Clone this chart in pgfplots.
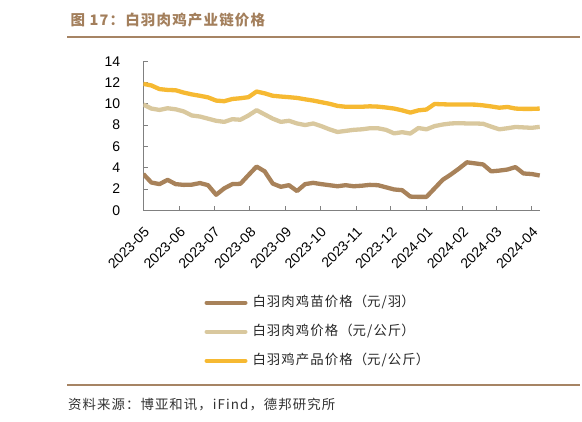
\documentclass[border=0pt]{standalone}
\usepackage{fontspec}
\setmainfont{Liberation Sans}
\newfontfamily\cjk[LetterSpace=8]{Noto Sans CJK SC}
\usepackage{pgfplots}
\usepackage{pgfplotstable}
\pgfplotsset{compat=1.18}

\definecolor{chick}{RGB}{168,130,90}
\definecolor{broiler}{RGB}{217,200,158}
\definecolor{product}{RGB}{246,185,50}
\definecolor{rulec}{RGB}{166,132,100}
\definecolor{titlec}{RGB}{163,127,92}
\definecolor{axisc}{RGB}{128,128,128}

% full-width brackets
\newcommand\lp{\makebox[1.08em][r]{（}}
\newcommand\rp{\makebox[1.08em][l]{）}}

% weekly prices, day 0 = 2023-05-01
\pgfplotstableread{
day chick broiler product
0   3.40  9.93  11.87
7   2.60  9.55  11.72
14  2.45  9.42  11.38
21  2.85  9.58  11.30
28  2.45  9.48  11.27
35  2.38  9.28  11.05
42  2.40  8.90  10.88
49  2.55  8.80  10.75
56  2.35  8.60  10.60
63  1.45  8.40  10.30
70  2.05  8.30  10.24
77  2.45  8.55  10.45
84  2.48  8.50  10.52
91  3.30  8.90  10.62
98  4.10  9.40  11.15
105 3.65  9.00  10.98
112 2.50  8.60  10.75
119 2.20  8.30  10.68
126 2.35  8.40  10.62
133 1.80  8.15  10.55
140 2.45  8.00  10.42
147 2.57  8.15  10.30
154 2.45  7.90  10.15
161 2.35  7.60  10.00
168 2.25  7.35  9.80
175 2.35  7.45  9.72
182 2.25  7.55  9.72
189 2.30  7.60  9.72
196 2.38  7.70  9.76
203 2.35  7.70  9.73
210 2.15  7.55  9.65
217 1.95  7.22  9.55
224 1.88  7.33  9.38
231 1.28  7.20  9.17
238 1.25  7.72  9.38
245 1.25  7.60  9.46
252 2.05  7.90  9.98
259 2.85  8.05  9.95
266 3.35  8.15  9.93
273 3.90  8.18  9.93
280 4.50  8.15  9.93
287 4.40  8.15  9.92
294 4.30  8.12  9.85
301 3.65  7.85  9.75
308 3.72  7.60  9.63
315 3.82  7.70  9.70
322 4.05  7.82  9.55
329 3.45  7.78  9.52
336 3.40  7.74  9.52
343 3.26  7.83  9.55
}\prices

\begin{document}
\begin{tikzpicture}[x=1pt,y=1pt]
\path[use as bounding box] (0,0) rectangle (582,422);

\node[anchor=west, inner sep=0pt, text=titlec,
      font=\cjk\bfseries\fontsize{14.5}{16}\selectfont] at (70.5,402) {图 17：白羽肉鸡产业链价格};
\draw[rulec, line width=2pt] (67,385.3) -- (580,385.3);
\draw[rulec, line width=1.6pt] (67,37) -- (580,37);
\node[anchor=west, inner sep=0pt, text=black!80,
      font=\cjk\fontsize{13.4}{14}\selectfont] at (68,17) {资料来源：博亚和讯，iFind，德邦研究所};

\begin{axis}[
  at={(124,199)}, anchor=origin,
  scale only axis, width=397pt, height=149pt,
  xmin=0, xmax=343.5, ymin=0, ymax=14,
  axis x line=bottom, axis y line=left,
  axis line style={axisc, line width=0.8pt, -},
  tick style={axisc, line width=0.6pt},
  tick align=inside,
  major tick length=4.5pt,
  xtick={0,31,61,92,123,153,184,214,245,276,305,336},
  xticklabels={2023-05,2023-06,2023-07,2023-08,2023-09,2023-10,2023-11,2023-12,2024-01,2024-02,2024-03,2024-04},
  ytick={0,2,...,14},
  /pgf/number format/assume math mode=true,
  yticklabel style={anchor=east, inner sep=0pt, xshift=-23pt, font=\fontsize{14}{14}\selectfont},
  xticklabel style={yshift=-16pt, rotate=45, anchor=north east, inner sep=0pt, font=\fontsize{14}{14}\selectfont},
  legend cell align=left,
  legend style={at={(axis description cs:0,0)}, anchor=north west, xshift=61pt, yshift=-86pt,
    draw=none, fill=none, inner sep=0pt, row sep=16pt, column sep=5pt,
    font=\cjk\fontsize{13.4}{13.4}\selectfont, text=black!85,
    nodes={inner sep=0pt, text height=10pt, text depth=3pt}},
  legend image code/.code={\draw[line width=4.5pt, line cap=round] (2.25pt,0pt) -- (40.75pt,0pt);},
]
\addplot[chick, line width=4.3pt, line join=round] table[x=day, y=chick] {\prices};
\addplot[broiler, line width=4.3pt, line join=round] table[x=day, y=broiler] {\prices};
\addplot[product, line width=4.3pt, line join=round] table[x=day, y=product] {\prices};
\legend{白羽肉鸡苗价格\lp 元/羽\rp, 白羽肉鸡价格\lp 元/公斤\rp, 白羽鸡产品价格\lp 元/公斤\rp}
\end{axis}
\end{tikzpicture}
\end{document}
